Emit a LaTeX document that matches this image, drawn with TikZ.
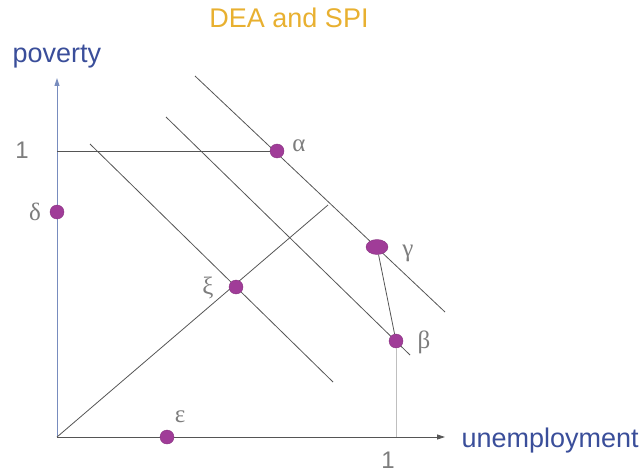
\documentclass[tikz,border=0pt]{standalone}
\usepackage{fontspec}
\setmainfont{Liberation Sans}
\newfontfamily\greekfont{Liberation Serif}
\usetikzlibrary{arrows.meta,shapes.geometric}
\definecolor{titleorange}{RGB}{232,176,48}
\definecolor{axisblue}{RGB}{58,78,154}
\definecolor{axisline}{RGB}{120,140,190}
\definecolor{dotpurple}{RGB}{160,60,152}
\definecolor{linegray}{RGB}{85,85,85}
\definecolor{labelgray}{RGB}{125,125,125}
\tikzset{
  pointdot/.style={circle, fill=dotpurple, draw=dotpurple!85!black, line width=0.4pt, inner sep=0pt, minimum size=14pt},
  greek/.style={text=labelgray, font=\greekfont\fontsize{25}{25}\selectfont},
  unitlabel/.style={text=labelgray, font=\fontsize{24}{24}\selectfont, anchor=base},
  axislabel/.style={text=axisblue, font=\fontsize{27}{27}\selectfont, anchor=base west},
  thinline/.style={linegray, line width=0.8pt},
}
\begin{document}
\begin{tikzpicture}[x=1pt,y=-1pt]
\useasboundingbox (0,0) rectangle (644,473);
% title and axis names
\node[text=titleorange, font=\fontsize{27}{27}\selectfont, anchor=base] (title) at (289,28) {DEA and SPI};
\node[axislabel] (ylab) at (9,63) {poverty};
\node[axislabel] (xlab) at (458,447) {unemployment};
\node[unitlabel] (yone) at (22,158) {1};
\node[unitlabel] (xone) at (388,468) {1};
% axes
\coordinate (O) at (57,437);
\coordinate (ytip) at (57,78);
\coordinate (xtip) at (445,437);
\coordinate (yunit) at (57,151);
\coordinate (xunit) at (396,437);
\draw[axisline, line width=1pt, -{Triangle[length=8pt,width=5pt]}] (O) -- (ytip);
\draw[thinline, -{Triangle[length=8pt,width=5pt]}] (O) -- (xtip);
% iso-lines and ray
\draw[thinline] (195,76) -- (445,312);
\draw[thinline] (166,117) -- (410,355);
\draw[thinline] (90,144) -- (333,382);
\draw[thinline] (O) -- (328,205);
% points
\node[pointdot] (alpha) at (277,151) {};
\node[pointdot] (delta) at (57,212) {};
\node[pointdot] (xi) at (236,287) {};
\node[pointdot] (eps) at (167,437) {};
\node[pointdot] (beta) at (396,341) {};
\node[ellipse, fill=dotpurple, draw=dotpurple!85!black, line width=0.4pt, inner sep=0pt, minimum width=22pt, minimum height=15pt] (gamma) at (377,247) {};
\draw[thinline] (yunit) -- (alpha);
\draw[thinline] (gamma) -- (beta);
\draw[black!25, line width=0.8pt] (beta) -- (xunit);
% labels
\node[greek] at (299,146) {α};
\node[greek] at (35,212) {δ};
\node[greek] at (208,288) {ξ};
\node[greek] at (180,417) {ε};
\node[greek] at (408,253) {γ};
\node[greek] at (424,342) {β};
\end{tikzpicture}
\end{document}
